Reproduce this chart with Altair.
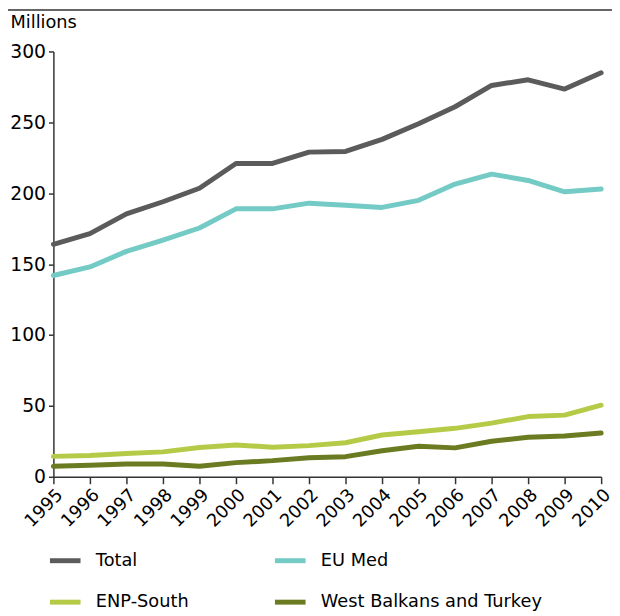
import altair as alt
import pandas as pd

years = [str(y) for y in range(1995, 2011)]
series_names = ["Total", "EU Med", "ENP-South", "West Balkans and Turkey"]
legend_order = ["Total", "ENP-South", "EU Med", "West Balkans and Turkey"]
total = [164, 171.5, 185.5, 194, 203.5, 221, 221, 229, 229.5, 238, 249, 261, 276, 280, 273.5, 285]
eu_med = [142, 148, 159, 167, 175.5, 189, 189, 193, 191.5, 190, 195, 206.5, 213.5, 209, 201, 203]
enp_south = [14.4, 15, 16.5, 17.6, 20.7, 22.5, 20.9, 22, 24, 29.5, 31.8, 34.2, 37.9, 42.5, 43.5, 50.5]
wbt = [7.4, 8.1, 9.1, 9.1, 7.4, 10, 11.4, 13.5, 14.2, 18.4, 21.6, 20.4, 25.1, 27.9, 28.8, 30.9]
colors = {"Total": "#5b5b5b", "EU Med": "#74cbc5", "ENP-South": "#b5cb47",
          "West Balkans and Turkey": "#6b7b22"}

rows = []
for name, vals in zip(series_names, [total, eu_med, enp_south, wbt]):
    for y, v in zip(years, vals):
        rows.append({"year": y, "value": v, "series": name})
df = pd.DataFrame(rows)

FONT = "DejaVu Sans"

lines = alt.Chart(df).mark_line(strokeWidth=5, strokeCap="round", strokeJoin="round").encode(
    x=alt.X("year:O", scale=alt.Scale(type="point", padding=0),
            axis=alt.Axis(title=None, labelAngle=-45, labelFontSize=18, labelFont=FONT,
                          labelColor="#000", domainColor="#333", tickColor="#333",
                          tickSize=7, domainWidth=1.5, tickWidth=1.5, labelPadding=2)),
    y=alt.Y("value:Q", scale=alt.Scale(domain=[0, 300], nice=False),
            axis=alt.Axis(values=[0, 50, 100, 150, 200, 250, 300], title="Millions",
                          titleAngle=0, titleX=-44, titleY=-29, titleAlign="left",
                          titleBaseline="middle", titleFontSize=18, titleFont=FONT,
                          titleFontWeight="normal", titleColor="#000",
                          labelFontSize=19, labelFont=FONT, labelColor="#000",
                          domainColor="#333", tickColor="#333", tickSize=5,
                          domainWidth=1.5, tickWidth=1.5, labelPadding=3, grid=False)),
    color=alt.Color("series:N",
                    scale=alt.Scale(domain=legend_order, range=[colors[s] for s in legend_order]),
                    legend=alt.Legend(title=None, orient="none", legendX=-6, legendY=498,
                                      columns=2, symbolType="stroke", symbolSize=961,
                                      symbolStrokeWidth=5, labelFontSize=18, labelFont=FONT,
                                      labelColor="#000", labelOffset=13, rowPadding=14,
                                      columnPadding=76, labelLimit=400)),
    order=alt.value(0),
)

topline = alt.Chart(pd.DataFrame({"a": [0]})).mark_rule(color="#666", strokeWidth=2).encode(
    x=alt.value(-46), x2=alt.value(566), y=alt.value(-42)
)

chart = alt.layer(topline, lines).properties(
    width=555, height=431,
    autosize=alt.AutoSizeParams(type="none"),
    padding={"left": 46, "top": 40, "right": 11, "bottom": 137},
).configure_view(stroke=None)

chart.save("out.html", embed_options={"renderer": "svg", "actions": False})
